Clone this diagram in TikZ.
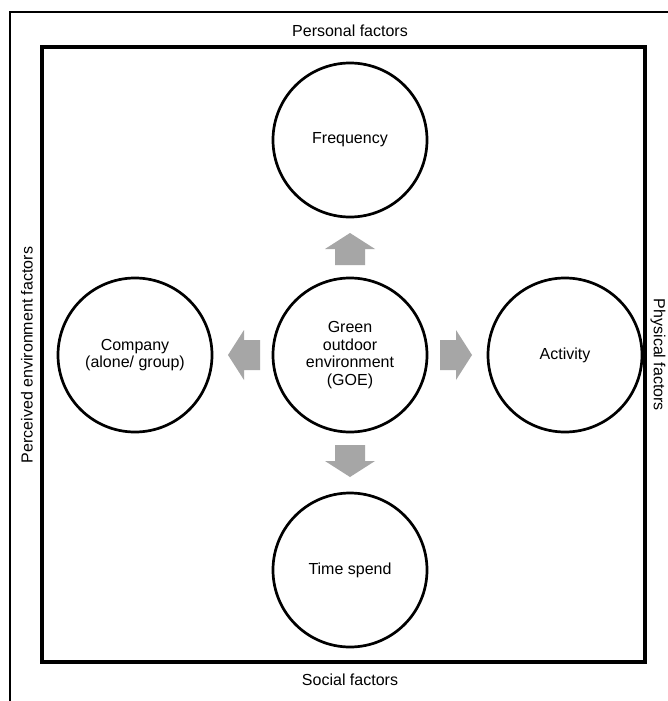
\documentclass[tikz,border=0pt]{standalone}
\usepackage{fontspec}
\setmainfont{Liberation Sans}
\begin{document}
\begin{tikzpicture}[x=1pt,y=-1pt,
  factor/.style={circle,draw=black,line width=2.7pt,minimum size=154pt,inner sep=0pt,align=center,font=\fontsize{16}{17.5}\selectfont},
  lbl/.style={inner sep=0pt,font=\fontsize{16}{17.5}\selectfont},
  blockarrow/.pic={\fill[fill=arrowgray] (-16,-15) -- (0,-15) -- (0,-25) -- (16,0) -- (0,25) -- (0,15) -- (-16,15) -- cycle;}
]
\definecolor{arrowgray}{HTML}{A6A6A6}
\useasboundingbox (0,0) rectangle (668,701);
\fill[white] (0,0) rectangle (668,701);
% outer frame (clipped at right and bottom)
\draw[line width=2.8pt] (10,701) -- (10,12) -- (668,12);
% inner frame
\draw[line width=3.2pt] (42,47) rectangle (645,662);
% factor circles
\node[factor] (freq) at (350,140) {Frequency};
\node[factor] (goe) at (350,355) {Green\\outdoor\\environment\\(GOE)};
\node[factor] (comp) at (135,355) {Company\\(alone/ group)};
\node[factor] (act) at (565,355) {Activity};
\node[factor] (time) at (350,570) {Time spend};
% block arrows
\pic[rotate=90] at (350,249) {blockarrow};
\pic[rotate=-90] at (350,461) {blockarrow};
\pic[rotate=180] at (244,355) {blockarrow};
\pic at (456,355) {blockarrow};
% side labels
\node[lbl] (pers) at (350,31) {Personal factors};
\node[lbl] (soc) at (350,680) {Social factors};
\node[lbl,rotate=90] (perc) at (27,355) {Perceived environment factors};
\node[lbl,rotate=-90] (phys) at (658,355) {Physical factors};
\end{tikzpicture}
\end{document}
